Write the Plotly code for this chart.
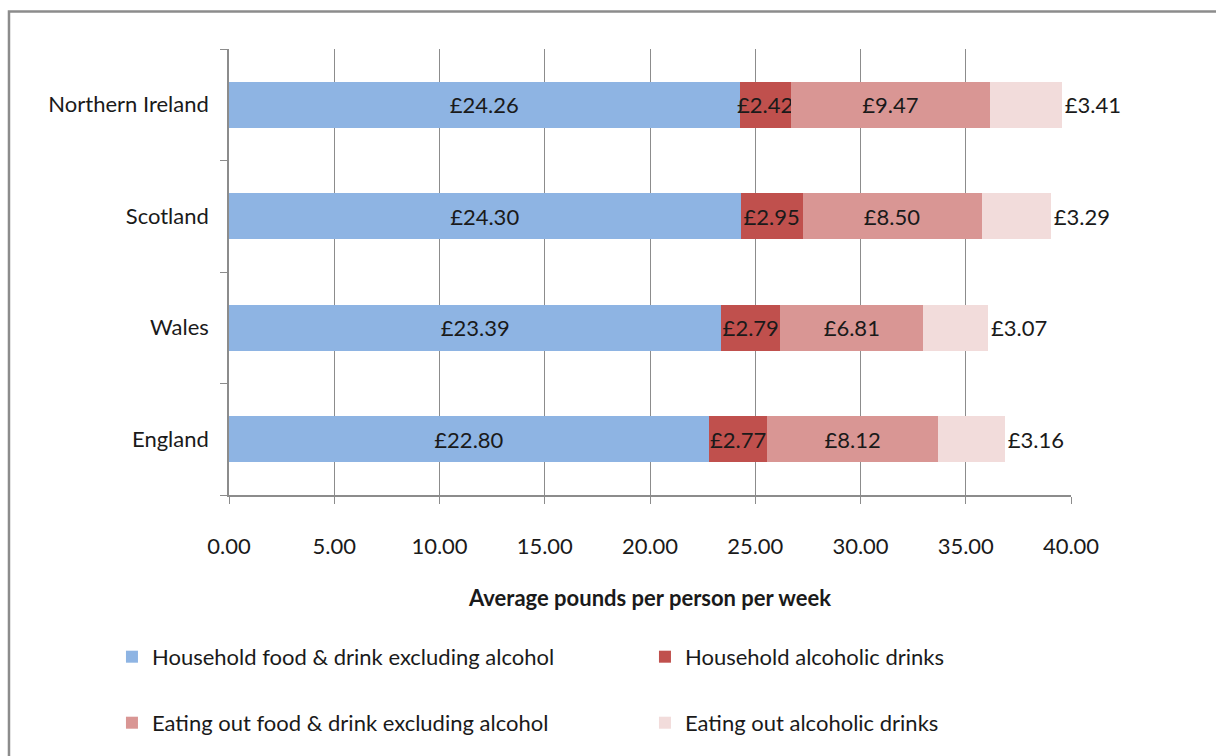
import plotly.graph_objects as go

regions = ["England", "Wales", "Scotland", "Northern Ireland"]
series_names = [
    "Household food & drink excluding alcohol",
    "Household alcoholic drinks",
    "Eating out food & drink excluding alcohol",
    "Eating out alcoholic drinks",
]
household_food = [22.80, 23.39, 24.30, 24.26]
household_alcohol = [2.77, 2.79, 2.95, 2.42]
eating_out_food = [8.12, 6.81, 8.50, 9.47]
eating_out_alcohol = [3.16, 3.07, 3.29, 3.41]
x_ticks = [0, 5, 10, 15, 20, 25, 30, 35, 40]

colors = ["#8EB4E3", "#C0504D", "#D99694", "#F2DCDB"]
FONT = "Lato"
FS = 22
TXT = "#1a1a1a"

series_values = [household_food, household_alcohol, eating_out_food, eating_out_alcohol]

fig = go.Figure()
for i, (name, vals, col) in enumerate(zip(series_names, series_values, colors)):
    last = i == len(series_names) - 1
    fig.add_trace(go.Bar(
        y=regions,
        x=vals,
        name=name,
        orientation="h",
        marker=dict(color=col, line=dict(width=0)),
        text=[f"£{v:.2f}" for v in vals],
        textposition="outside" if last else "inside",
        insidetextanchor="middle",
        constraintext="none",
        cliponaxis=False,
        textfont=dict(family=FONT, size=FS, color=TXT),
        legend="legend" if i < 2 else "legend2",
        hoverinfo="skip",
    ))

legend_style = dict(
    orientation="h", xanchor="left", yanchor="middle",
    entrywidth=488, entrywidthmode="pixels", traceorder="normal",
    font=dict(family=FONT, size=FS, color=TXT), itemwidth=30,
    bgcolor="rgba(0,0,0,0)",
)

fig.update_layout(
    barmode="stack",
    bargap=0.59,
    width=1216,
    height=756,
    margin=dict(l=229, r=145, t=49, b=256),
    paper_bgcolor="white",
    plot_bgcolor="white",
    font=dict(family=FONT, size=FS, color=TXT),
    showlegend=True,
    legend=dict(x=-0.139, y=-0.363, **legend_style),
    legend2=dict(x=-0.139, y=-0.511, **legend_style),
    xaxis=dict(
        range=[0, 40],
        tickvals=x_ticks,
        ticktext=[f"{v:.2f}" for v in x_ticks],
        showgrid=True, gridcolor="#8c8c8c", gridwidth=1,
        showline=True, linecolor="#8c8c8c", linewidth=1.5,
        ticks="outside", ticklen=7, tickcolor="#8c8c8c",
        ticklabelstandoff=24,
        zeroline=False, fixedrange=True,
        title=dict(text="<b>Average pounds per person per week</b>",
                   font=dict(family=FONT, size=FS, color=TXT), standoff=32),
    ),
    yaxis=dict(
        categoryorder="array", categoryarray=regions,
        showline=True, linecolor="#8c8c8c", linewidth=1.5,
        ticks="outside", ticklen=7, tickcolor="#8c8c8c",
        tickson="boundaries", ticklabelstandoff=14,
        showgrid=False, zeroline=False, fixedrange=True,
    ),
)

# outer chart frame
fig.add_shape(type="rect", xref="paper", yref="paper",
              x0=-0.2613, x1=1.35, y0=-0.8, y1=1.0843,
              line=dict(color="#8c8c8c", width=2.5), fillcolor="rgba(0,0,0,0)",
              layer="below")

fig.write_html("out.html")
